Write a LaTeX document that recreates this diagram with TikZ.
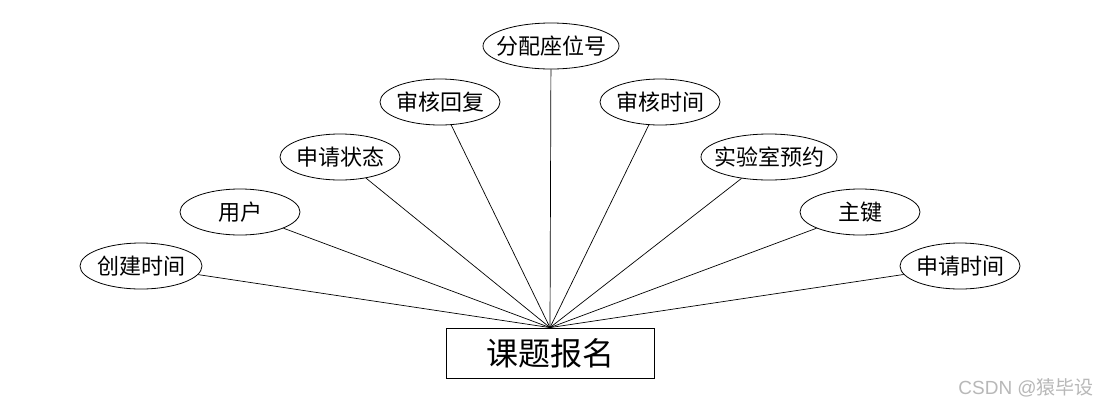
\documentclass[tikz,border=0pt]{standalone}
\usepackage{fontspec}
\newfontfamily\cjk{Noto Sans CJK SC}
\newfontfamily\wmfont{Liberation Sans}
\usetikzlibrary{shapes.geometric}
\newcommand{\zw}[1]{\makebox[0pt][c]{#1}}
\tikzset{
  attr/.style={draw, ellipse, line width=0.8pt, inner sep=0pt, minimum height=46pt, font=\cjk\fontsize{22}{24}\selectfont},
  ent/.style={draw, rectangle, line width=0.8pt, inner sep=0pt, minimum width=208pt, minimum height=50pt, font=\cjk\fontsize{32}{34}\selectfont},
  link/.style={line width=0.7pt}
}
\begin{document}
\begin{tikzpicture}[x=1pt,y=-1pt]
\useasboundingbox (0,0) rectangle (1100,408);
\fill[white] (0,0) rectangle (1100,408);
\node[ent] (box) at (550,353) {课题报名};
\node[attr, minimum width=122pt] (a1) at (141,266) {\zw{创建时间}};
\node[attr, minimum width=120pt] (a2) at (240,212) {\zw{用户}};
\node[attr, minimum width=120pt] (a3) at (340,157) {\zw{申请状态}};
\node[attr, minimum width=120pt] (a4) at (440,102) {\zw{审核回复}};
\node[attr, minimum width=136pt] (a5) at (551,46) {\zw{分配座位号}};
\node[attr, minimum width=120pt] (a6) at (660,102) {\zw{审核时间}};
\node[attr, minimum width=136pt] (a7) at (769,157) {\zw{实验室预约}};
\node[attr, minimum width=120pt] (a8) at (860,212) {\zw{主键}};
\node[attr, minimum width=120pt] (a9) at (960,266) {\zw{申请时间}};
\foreach \n in {a1,a2,a3,a4,a5,a6,a7,a8,a9}
  \draw[link] (\n) -- (box.north);
\node[text=black!28, anchor=east, inner sep=0pt, font=\fontsize{19}{21}\selectfont] (wm) at (1094,388) {\wmfont CSDN @\cjk 猿毕设};
\end{tikzpicture}
\end{document}
